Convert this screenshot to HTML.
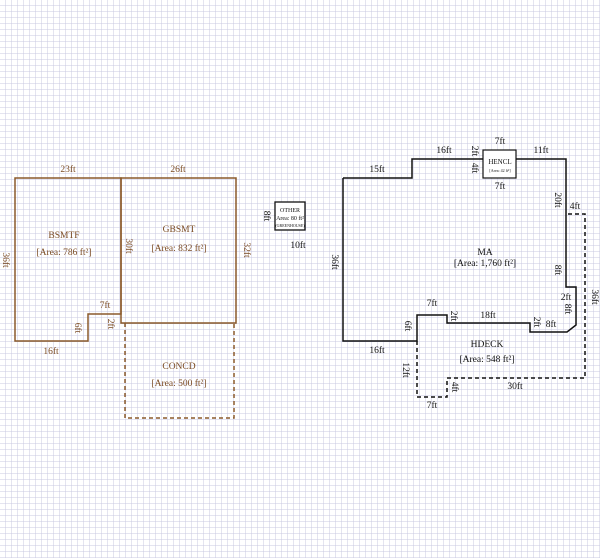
<!DOCTYPE html>
<html><head><meta charset="utf-8"><style>
html,body{margin:0;padding:0;background:#fff}
svg{display:block}
text{font-family:"Liberation Serif",serif;font-size:9.5px}
.b{fill:#7a4a22}.k{fill:#111}
</style></head><body>
<svg width="600" height="558" viewBox="0 0 600 558" xmlns="http://www.w3.org/2000/svg">
<defs>
<pattern id="g" width="6" height="6" patternUnits="userSpaceOnUse">
<path d="M6 0V6M0 6H6" stroke="#c9c9e2" stroke-width="1" fill="none"/>
</pattern>
</defs>
<rect width="600" height="558" fill="#fff"/>
<rect width="600" height="558" fill="url(#g)"/>

<!-- BSMTF / GBSMT -->
<g stroke="#8b5a2b" stroke-width="1.5" fill="none">
<path d="M15 178H121V314H88V341H15Z"/>
<path d="M121 178H236V323H121Z"/>
<path d="M125 323V418H234V323" stroke-dasharray="4,3"/>
</g>
<text class="b" x="68" y="172" text-anchor="middle">23ft</text>
<text class="b" x="178" y="172" text-anchor="middle">26ft</text>
<text class="b" x="64" y="238" text-anchor="middle">BSMTF</text>
<text class="b" x="64" y="255" text-anchor="middle">[Area: 786 ft²]</text>
<text class="b" x="179" y="232" text-anchor="middle">GBSMT</text>
<text class="b" x="179" y="251" text-anchor="middle">[Area: 832 ft²]</text>
<text class="b" x="105" y="308" text-anchor="middle">7ft</text>
<text class="b" x="51" y="354" text-anchor="middle">16ft</text>
<text class="b" x="179" y="369" text-anchor="middle">CONCD</text>
<text class="b" x="179" y="386" text-anchor="middle">[Area: 500 ft²]</text>
<text class="b" transform="translate(3,260) rotate(90)" text-anchor="middle">36ft</text>
<text class="b" transform="translate(126,246) rotate(90)" text-anchor="middle">30ft</text>
<text class="b" transform="translate(244,250) rotate(90)" text-anchor="middle">32ft</text>
<text class="b" transform="translate(75,328) rotate(90)" text-anchor="middle">6ft</text>
<text class="b" transform="translate(108,324) rotate(90)" text-anchor="middle">2ft</text>

<!-- OTHER -->
<rect x="275" y="202" width="30" height="28" fill="#fff" stroke="#111" stroke-width="1.3"/>
<text class="k" x="290" y="212" text-anchor="middle" style="font-size:6px">OTHER</text>
<text class="k" x="290" y="220" text-anchor="middle" style="font-size:6px">[Area: 80 ft²]</text>
<text class="k" x="290" y="227" text-anchor="middle" style="font-size:4px">(GREENHOUSE)</text>
<text class="k" x="298" y="248" text-anchor="middle">10ft</text>
<text class="k" transform="translate(264,216) rotate(90)" text-anchor="middle">8ft</text>

<!-- MA -->
<g stroke="#111" stroke-width="1.5" fill="none">
<path d="M343 178H412V159H483"/>
<path d="M516 159H566V287H576V325L567 332H530V323H447V315H417V341H343V178"/>
<rect x="483" y="150" width="33" height="28" fill="#fff" stroke-width="1.2"/>
<path d="M417 341V397H447V378H585V214H566" stroke-dasharray="4,3"/>
</g>
<text class="k" x="500" y="144" text-anchor="middle">7ft</text>
<text class="k" x="500" y="189" text-anchor="middle">7ft</text>
<text class="k" x="500" y="164" text-anchor="middle" style="font-size:7px">HENCL</text>
<text class="k" x="500" y="172" text-anchor="middle" style="font-size:4px">[Area: 42 ft²]</text>
<text class="k" x="444" y="153" text-anchor="middle">16ft</text>
<text class="k" x="541" y="153" text-anchor="middle">11ft</text>
<text class="k" x="377" y="172" text-anchor="middle">15ft</text>
<text class="k" x="575" y="209" text-anchor="middle">4ft</text>
<text class="k" x="485" y="255" text-anchor="middle">MA</text>
<text class="k" x="485" y="266" text-anchor="middle">[Area: 1,760 ft²]</text>
<text class="k" x="432" y="306" text-anchor="middle">7ft</text>
<text class="k" x="488" y="318" text-anchor="middle">18ft</text>
<text class="k" x="551" y="327" text-anchor="middle">8ft</text>
<text class="k" x="566" y="300" text-anchor="middle">2ft</text>
<text class="k" x="377" y="353" text-anchor="middle">16ft</text>
<text class="k" x="487" y="347" text-anchor="middle">HDECK</text>
<text class="k" x="487" y="362" text-anchor="middle">[Area: 548 ft²]</text>
<text class="k" x="515" y="389" text-anchor="middle">30ft</text>
<text class="k" x="432" y="408" text-anchor="middle">7ft</text>
<text class="k" transform="translate(332,262) rotate(90)" text-anchor="middle">36ft</text>
<text class="k" transform="translate(592,297) rotate(90)" text-anchor="middle">36ft</text>
<text class="k" transform="translate(555,200) rotate(90)" text-anchor="middle">20ft</text>
<text class="k" transform="translate(555,270) rotate(90)" text-anchor="middle">8ft</text>
<text class="k" transform="translate(565,309) rotate(90)" text-anchor="middle">8ft</text>
<text class="k" transform="translate(534,322) rotate(90)" text-anchor="middle">2ft</text>
<text class="k" transform="translate(451,316) rotate(90)" text-anchor="middle">2ft</text>
<text class="k" transform="translate(405,326) rotate(90)" text-anchor="middle">6ft</text>
<text class="k" transform="translate(403,370) rotate(90)" text-anchor="middle">12ft</text>
<text class="k" transform="translate(452,387) rotate(90)" text-anchor="middle">4ft</text>
<text class="k" transform="translate(472,151) rotate(90)" text-anchor="middle">2ft</text>
<text class="k" transform="translate(472,168) rotate(90)" text-anchor="middle">4ft</text>
</svg>
</body></html>
